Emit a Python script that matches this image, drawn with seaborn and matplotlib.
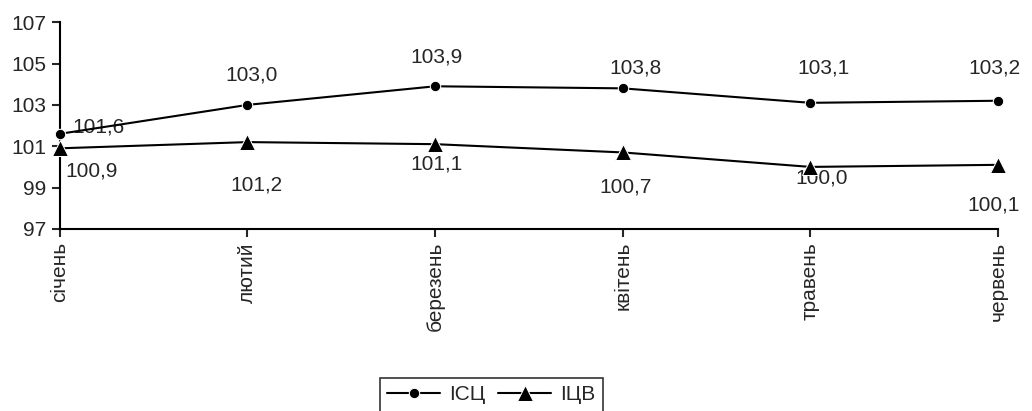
import matplotlib
matplotlib.use("Agg")
import matplotlib.pyplot as plt
import seaborn as sns
import pandas as pd

# дані
months = ["січень", "лютий", "березень", "квітень", "травень", "червень"]
isc = [101.6, 103.0, 103.9, 103.8, 103.1, 103.2]
icv = [100.9, 101.2, 101.1, 100.7, 100.0, 100.1]

# зміщення підписів (пікселі), як в оригіналі
isc_off = [(39, 7), (4, 30), (1, 29), (13, 20), (13, 35), (-4, 33)]
icv_off = [(32, -23), (9, -43), (1, -20), (3, -35), (11, -11), (-4, -40)]

sns.set_theme(style="white")
plt.rcParams["font.family"] = ["Liberation Sans", "DejaVu Sans"]
fs = 15

df = pd.DataFrame({"month": months * 2,
                   "value": isc + icv,
                   "series": ["ІСЦ"] * 6 + ["ІЦВ"] * 6})

fig = plt.figure(figsize=(10.32, 4.11), dpi=100)
ax = fig.add_axes([0.058, 0.443, 0.909, 0.503])

sns.lineplot(data=df, x="month", y="value", hue="series", style="series",
             markers={"ІСЦ": "o", "ІЦВ": "^"}, dashes=False,
             palette={"ІСЦ": "black", "ІЦВ": "black"},
             markersize=8, linewidth=1.5, sort=False, ax=ax)

# розміри маркерів як в Excel
def fix_marker(ln):
    if ln.get_marker() == "^":
        ln.set_markersize(11)
    elif ln.get_marker() == "o":
        ln.set_markersize(7.5)

for ln in ax.lines:
    fix_marker(ln)
    ln.set_clip_on(False)
    ln.set_zorder(5)

for i, v in enumerate(isc):
    ax.annotate(f"{v:.1f}".replace(".", ","), (i, v), xytext=isc_off[i],
                textcoords="offset pixels", ha="center", va="center", fontsize=fs)
for i, v in enumerate(icv):
    ax.annotate(f"{v:.1f}".replace(".", ","), (i, v), xytext=icv_off[i],
                textcoords="offset pixels", ha="center", va="center", fontsize=fs)

ax.set_xlim(0, len(months) - 1)
ax.set_ylim(97, 107)
ax.set_yticks([97, 99, 101, 103, 105, 107])
ax.set_xlabel("")
ax.set_ylabel("")
ax.tick_params(axis="x", rotation=90, labelsize=fs, length=6, width=1.5,
               direction="out", bottom=True)
ax.tick_params(axis="y", labelsize=fs, length=6, width=1.5,
               direction="out", left=True)
for s in ["top", "right"]:
    ax.spines[s].set_visible(False)
for s in ["left", "bottom"]:
    ax.spines[s].set_linewidth(1.5)
    ax.spines[s].set_color("black")

leg = ax.legend(loc="upper center", bbox_to_anchor=(0.476, 0.08), bbox_transform=fig.transFigure,
                ncol=2, frameon=True, fancybox=False, edgecolor="black", fontsize=fs,
                handlelength=2.55, columnspacing=0.6, handletextpad=0.43,
                borderpad=0.35, borderaxespad=0)
leg.get_frame().set_linewidth(1.2)
for h in leg.legend_handles:
    fix_marker(h)

fig.savefig("out.png", dpi=100)
